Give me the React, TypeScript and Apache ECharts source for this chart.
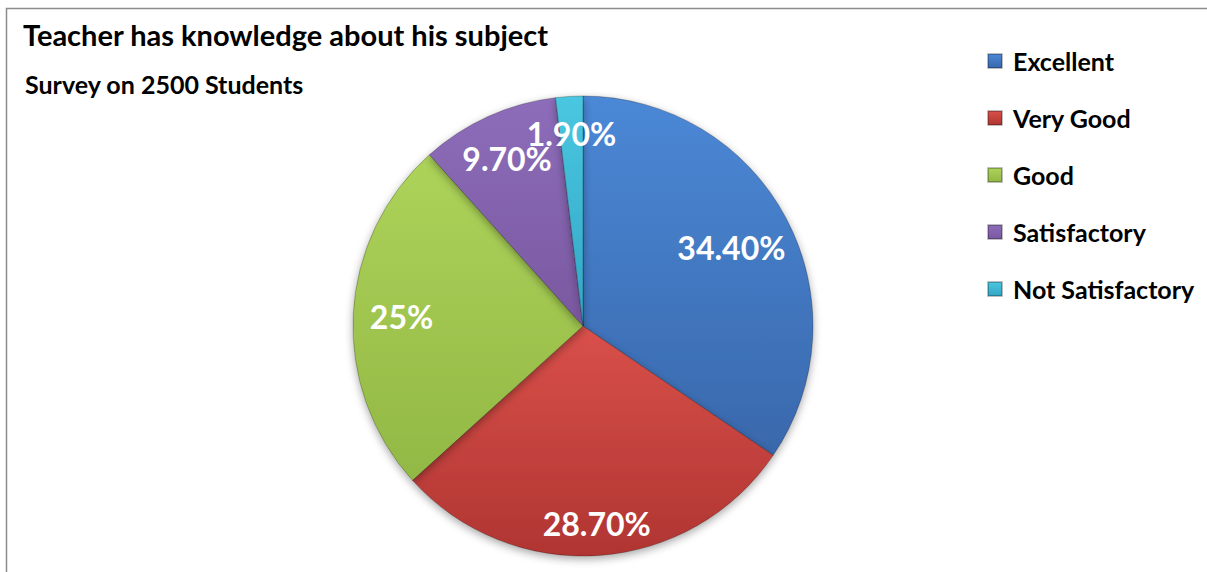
import React, { useEffect, useRef } from "react";
import * as echarts from "echarts";

const categories = ["Excellent", "Very Good", "Good", "Satisfactory", "Not Satisfactory"];
const values = [34.4, 28.7, 25, 9.7, 1.9];
const topColors = ["#4B88D6", "#D9504A", "#ADD35A", "#8D6DBA", "#4AC7E0"];
const bottomColors = ["#3968AC", "#B03532", "#92B845", "#7A58A0", "#33A6C6"];
const titleText = "Teacher has knowledge about his subject";
const subtitleText = "Survey on 2500 Students";

// radial position of each inside label, as a fraction of the pie radius
const labelRadiusRatio = [0.73, 0.86, 0.79, 0.8, 0.84];

const FONT = "Lato, 'Open Sans', sans-serif";

function fmt(v: number): string {
  return Number.isInteger(v) ? `${v}%` : `${v.toFixed(2)}%`;
}

export default function App() {
  const ref = useRef<HTMLDivElement>(null);
  useEffect(() => {
    if (!ref.current) return;
    const chart = echarts.init(ref.current, undefined, { renderer: "svg" });
    const cx = 583;
    const cy = 326;
    const R = 230;
    const data = categories.map((name, i) => ({
      name,
      value: values[i],
      itemStyle: {
        color: new echarts.graphic.LinearGradient(0, 0, 0, 1, [
          { offset: 0, color: topColors[i] },
          { offset: 1, color: bottomColors[i] },
        ]),
      },
    }));
    chart.setOption({
      animation: false,
      backgroundColor: "#ffffff",
      title: [
        {
          text: titleText,
          left: 18,
          top: 15,
          textStyle: { fontFamily: FONT, fontWeight: "bold", fontSize: 29, color: "#000" },
        },
        {
          text: subtitleText,
          left: 20,
          top: 66,
          textStyle: { fontFamily: FONT, fontWeight: "bold", fontSize: 25, color: "#000" },
        },
      ],
      legend: {
        orient: "vertical",
        left: 982,
        top: 43,
        itemWidth: 14,
        itemHeight: 14,
        itemGap: 31,
        icon: "rect",
        data: categories,
        textStyle: {
          fontFamily: FONT,
          fontWeight: "bold",
          fontSize: 25,
          color: "#000",
          lineHeight: 26,
          padding: [0, 0, 0, 6],
        },
      },
      graphic: [
        {
          type: "rect",
          shape: { x: 6.5, y: 8.5, width: 1300, height: 700 },
          style: { fill: "none", stroke: "#8c8c8c", lineWidth: 1.5 },
          silent: true,
        },
      ],
      series: [
        {
          type: "pie",
          center: [cx, cy],
          radius: [0, R],
          startAngle: 90,
          clockwise: true,
          avoidLabelOverlap: false,
          minShowLabelAngle: 0,
          label: {
            show: true,
            position: "inside",
            formatter: (p: any) => fmt(p.value),
            fontFamily: FONT,
            fontWeight: "bold",
            fontSize: 32,
            color: "#ffffff",
          },
          labelLayout: (p: any) => {
            const r = p.labelRect;
            const lx = r.x + r.width / 2;
            const ly = r.y + r.height / 2;
            const vx = lx - cx;
            const vy = ly - cy;
            const d = Math.sqrt(vx * vx + vy * vy) || 1;
            const k = (labelRadiusRatio[p.dataIndex] * R) / d - 1;
            return { dx: vx * k, dy: vy * k, hideOverlap: false };
          },
          labelLine: { show: false },
          itemStyle: {
            borderColor: "rgba(0,0,0,0.25)",
            borderWidth: 1,
            shadowBlur: 8,
            shadowOffsetY: 3,
            shadowColor: "rgba(0,0,0,0.35)",
          },
          emphasis: { disabled: true },
          data,
        },
      ],
    });
    return () => chart.dispose();
  }, []);
  return (
    <div
      ref={ref}
      style={{ position: "fixed", left: 0, top: 0, width: 1207, height: 572 }}
    />
  );
}
